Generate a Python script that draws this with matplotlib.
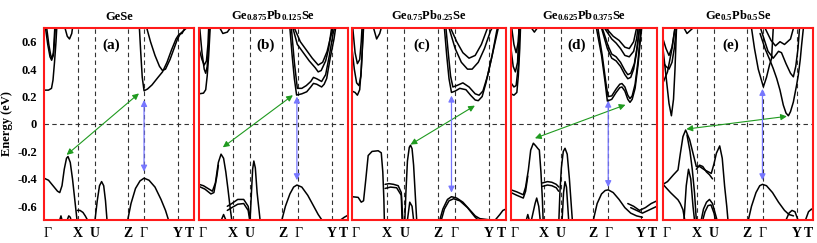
import matplotlib
matplotlib.use("Agg")
import matplotlib.pyplot as plt

plt.rcParams['font.family'] = ['Liberation Serif', 'DejaVu Serif']
plt.rcParams['font.weight'] = 'bold'
plt.rcParams['mathtext.fontset'] = 'custom'
plt.rcParams['mathtext.rm'] = 'Liberation Serif:bold'
plt.rcParams['mathtext.bf'] = 'Liberation Serif:bold'
plt.rcParams['mathtext.it'] = 'Liberation Serif:bold'

# high-symmetry path (fractional positions) and labels
kpath_pos = [0.0, 0.225, 0.34, 0.56, 0.667, 0.89, 1.0]
kpath_labels = ['Γ', 'X', 'U', 'Z', 'Γ', 'Y', 'T']
ytick_vals = [0.6, 0.4, 0.2, 0.0, -0.2, -0.4, -0.6]
ytick_labels = ['0.6', '0.4', '0.2', '0', '-0.2', '-0.4', '-0.6']

titles = ['GeSe',
          r'Ge$_{0.875}$Pb$_{0.125}$Se',
          r'Ge$_{0.75}$Pb$_{0.25}$Se',
          r'Ge$_{0.625}$Pb$_{0.375}$Se',
          r'Ge$_{0.5}$Pb$_{0.5}$Se']
panel_tags = ['(a)', '(b)', '(c)', '(d)', '(e)']

# band lines: list of (k, E) points per band
bands_a = [
    [(0, -0.395), (0.03, -0.41), (0.06, -0.45), (0.09, -0.49), (0.105, -0.50), (0.12, -0.45), (0.135, -0.33), (0.15, -0.25), (0.16, -0.237), (0.175, -0.28), (0.19, -0.40), (0.205, -0.55), (0.22, -0.70)],
    [(0.222, -0.63), (0.24, -0.63), (0.26, -0.645), (0.275, -0.67), (0.29, -0.70)],
    [(0.34, -0.70), (0.355, -0.56), (0.37, -0.45), (0.384, -0.42), (0.398, -0.45), (0.41, -0.56), (0.42, -0.70)],
    [(0.558, -0.70), (0.58, -0.58), (0.61, -0.47), (0.64, -0.415), (0.667, -0.395), (0.70, -0.41), (0.74, -0.46), (0.78, -0.55), (0.81, -0.63), (0.83, -0.70)],
    [(0.105, -0.70), (0.113, -0.67), (0.12, -0.70)],
    [(0.155, -0.70), (0.165, -0.67), (0.175, -0.68), (0.18, -0.70)],
    [(0, 0.247), (0.03, 0.247), (0.05, 0.26), (0.06, 0.32), (0.07, 0.45), (0.08, 0.6), (0.085, 0.7)],
    [(0.01, 0.7), (0.025, 0.58), (0.04, 0.49), (0.051, 0.465), (0.062, 0.5), (0.07, 0.6), (0.075, 0.7)],
    [(0.018, 0.7), (0.032, 0.58), (0.045, 0.5), (0.053, 0.48), (0.063, 0.52), (0.072, 0.7)],
    [(0.14, 0.7), (0.155, 0.64), (0.17, 0.62), (0.185, 0.66), (0.19, 0.7)],
    [(0.636, 0.7), (0.645, 0.52), (0.655, 0.34), (0.667, 0.242), (0.69, 0.255), (0.72, 0.285), (0.76, 0.34), (0.79, 0.38), (0.82, 0.45), (0.85, 0.54), (0.88, 0.62), (0.9, 0.655), (0.92, 0.66), (0.94, 0.7)],
    [(0.685, 0.7), (0.71, 0.6), (0.74, 0.5), (0.77, 0.42), (0.79, 0.39), (0.81, 0.40), (0.84, 0.47), (0.87, 0.56), (0.89, 0.62), (0.91, 0.66), (0.93, 0.68), (0.95, 0.7)],
]
bands_b = [
    [(0, -0.44), (0.03, -0.45), (0.06, -0.47), (0.09, -0.49), (0.11, -0.43), (0.13, -0.28), (0.148, -0.22), (0.165, -0.25), (0.18, -0.35), (0.195, -0.48), (0.21, -0.62), (0.22, -0.70)],
    [(0, -0.455), (0.04, -0.475), (0.08, -0.51), (0.10, -0.50), (0.12, -0.38), (0.13, -0.30)],
    [(0.19, -0.60), (0.22, -0.58), (0.26, -0.55), (0.30, -0.55), (0.33, -0.60), (0.345, -0.70)],
    [(0.19, -0.63), (0.22, -0.61), (0.26, -0.585), (0.30, -0.58), (0.33, -0.63), (0.34, -0.70)],
    [(0.343, -0.70), (0.352, -0.50), (0.36, -0.33), (0.368, -0.27), (0.378, -0.32), (0.39, -0.50), (0.41, -0.70)],
    [(0.556, -0.70), (0.58, -0.60), (0.61, -0.51), (0.635, -0.46), (0.657, -0.445), (0.69, -0.46), (0.73, -0.52), (0.77, -0.60), (0.80, -0.66), (0.825, -0.70)],
    [(0.95, -0.70), (0.975, -0.68), (1.0, -0.665)],
    [(0.15, -0.70), (0.165, -0.66), (0.18, -0.70)],
    [(0, 0.22), (0.03, 0.225), (0.045, 0.25), (0.055, 0.35), (0.065, 0.5), (0.075, 0.7)],
    [(0.005, 0.7), (0.02, 0.52), (0.035, 0.40), (0.045, 0.37), (0.055, 0.42), (0.065, 0.58), (0.07, 0.7)],
    [(0.0, 0.55), (0.02, 0.47), (0.035, 0.43), (0.05, 0.46), (0.06, 0.58), (0.065, 0.7)],
    [(0.14, 0.7), (0.16, 0.66), (0.19, 0.67), (0.21, 0.7)],
    [(0.61, 0.7), (0.625, 0.5), (0.64, 0.33), (0.655, 0.211), (0.69, 0.22), (0.723, 0.235), (0.75, 0.27), (0.768, 0.296), (0.79, 0.29), (0.823, 0.27), (0.84, 0.29), (0.857, 0.332), (0.88, 0.478), (0.906, 0.62), (0.917, 0.7)],
    [(0.62, 0.7), (0.64, 0.45), (0.66, 0.26), (0.69, 0.26), (0.72, 0.28), (0.75, 0.31), (0.768, 0.34), (0.79, 0.33), (0.823, 0.31), (0.85, 0.36), (0.875, 0.5), (0.9, 0.66), (0.91, 0.7)],
    [(0.63, 0.7), (0.66, 0.58), (0.70, 0.52), (0.74, 0.46), (0.78, 0.41), (0.80, 0.38), (0.82, 0.39), (0.85, 0.46), (0.87, 0.55), (0.89, 0.7)],
    [(0.64, 0.7), (0.68, 0.60), (0.72, 0.54), (0.76, 0.48), (0.80, 0.43), (0.83, 0.45), (0.86, 0.53), (0.88, 0.62), (0.9, 0.7)],
]
bands_c = [
    [(0, -0.53), (0.04, -0.535), (0.06, -0.57), (0.075, -0.56), (0.09, -0.40), (0.105, -0.23), (0.13, -0.20), (0.17, -0.195), (0.19, -0.21), (0.2, -0.35), (0.207, -0.55), (0.21, -0.70)],
    [(0.215, -0.44), (0.24, -0.435), (0.27, -0.44), (0.30, -0.45), (0.32, -0.5), (0.33, -0.70)],
    [(0.215, -0.47), (0.25, -0.46), (0.29, -0.465), (0.32, -0.52), (0.325, -0.70)],
    [(0.343, -0.70), (0.35, -0.50), (0.36, -0.27), (0.372, -0.17), (0.38, -0.155), (0.39, -0.18), (0.40, -0.30), (0.41, -0.50), (0.42, -0.70)],
    [(0.36, -0.70), (0.375, -0.57), (0.39, -0.60), (0.40, -0.70)],
    [(0.57, -0.70), (0.59, -0.62), (0.62, -0.55), (0.646, -0.53), (0.68, -0.54), (0.72, -0.57), (0.76, -0.62), (0.80, -0.67), (0.83, -0.69), (0.9, -0.70)],
    [(0.58, -0.70), (0.60, -0.62), (0.63, -0.56), (0.66, -0.545), (0.70, -0.56), (0.75, -0.61), (0.80, -0.68), (0.82, -0.70)],
    [(0.93, -0.70), (0.96, -0.66), (0.98, -0.63), (1.0, -0.62)],
    [(0, 0.24), (0.02, 0.23), (0.035, 0.21), (0.05, 0.25), (0.06, 0.4), (0.07, 0.6), (0.075, 0.7)],
    [(0.0, 0.55), (0.015, 0.40), (0.03, 0.30), (0.045, 0.28), (0.058, 0.35), (0.065, 0.5), (0.072, 0.7)],
    [(0.005, 0.7), (0.02, 0.52), (0.035, 0.44), (0.05, 0.47), (0.06, 0.6), (0.065, 0.7)],
    [(0.14, 0.7), (0.16, 0.62), (0.18, 0.66), (0.19, 0.7)],
    [(0.60, 0.7), (0.615, 0.5), (0.63, 0.33), (0.646, 0.23), (0.67, 0.24), (0.70, 0.26), (0.74, 0.25), (0.77, 0.21), (0.80, 0.175), (0.82, 0.17), (0.845, 0.2), (0.87, 0.3), (0.90, 0.45), (0.93, 0.6), (0.95, 0.7)],
    [(0.61, 0.7), (0.625, 0.52), (0.64, 0.35), (0.655, 0.27), (0.68, 0.28), (0.72, 0.30), (0.76, 0.27), (0.80, 0.22), (0.825, 0.21), (0.85, 0.24), (0.88, 0.35), (0.91, 0.5), (0.94, 0.68), (0.945, 0.7)],
    [(0.63, 0.7), (0.67, 0.55), (0.71, 0.45), (0.75, 0.40), (0.78, 0.40), (0.82, 0.45), (0.86, 0.55), (0.9, 0.68), (0.91, 0.7)],
    [(0.64, 0.7), (0.68, 0.6), (0.72, 0.52), (0.76, 0.48), (0.8, 0.5), (0.84, 0.58), (0.88, 0.7)],
]
bands_d = [
    [(0, -0.48), (0.04, -0.495), (0.084, -0.516), (0.10, -0.46), (0.119, -0.335), (0.135, -0.19), (0.153, -0.14), (0.17, -0.16), (0.185, -0.18), (0.194, -0.19), (0.205, -0.35), (0.215, -0.55), (0.22, -0.70)],
    [(0, -0.50), (0.04, -0.52), (0.084, -0.54), (0.10, -0.49), (0.115, -0.38)],
    [(0.215, -0.43), (0.25, -0.42), (0.28, -0.425), (0.31, -0.44), (0.328, -0.46)],
    [(0.215, -0.455), (0.25, -0.445), (0.28, -0.45), (0.31, -0.465), (0.326, -0.49)],
    [(0.328, -0.70), (0.335, -0.50), (0.345, -0.32), (0.358, -0.2), (0.37, -0.177), (0.385, -0.22), (0.40, -0.40), (0.41, -0.55), (0.42, -0.70)],
    [(0.35, -0.70), (0.36, -0.50), (0.37, -0.42), (0.38, -0.46), (0.395, -0.70)],
    [(0.14, -0.70), (0.165, -0.58), (0.176, -0.54), (0.19, -0.60), (0.2, -0.70)],
    [(0.105, -0.70), (0.115, -0.66), (0.125, -0.70)],
    [(0.564, -0.70), (0.59, -0.58), (0.62, -0.51), (0.645, -0.485), (0.666, -0.48), (0.70, -0.50), (0.74, -0.55), (0.78, -0.61), (0.82, -0.65), (0.86, -0.67), (0.9, -0.68)],
    [(0.80, -0.58), (0.84, -0.60), (0.88, -0.63), (0.92, -0.61), (0.96, -0.58), (1.0, -0.56)],
    [(0.82, -0.61), (0.86, -0.63), (0.9, -0.65), (0.94, -0.63), (1.0, -0.60)],
    [(0, 0.22), (0.02, 0.21), (0.04, 0.23), (0.05, 0.35), (0.06, 0.55), (0.065, 0.7)],
    [(0, 0.30), (0.02, 0.27), (0.035, 0.28), (0.05, 0.42), (0.06, 0.7)],
    [(0.0, 0.55), (0.015, 0.42), (0.03, 0.38), (0.045, 0.45), (0.055, 0.7)],
    [(0.005, 0.7), (0.02, 0.58), (0.035, 0.52), (0.05, 0.6), (0.055, 0.7)],
    [(0.14, 0.7), (0.16, 0.67), (0.18, 0.7)],
    [(0.585, 0.7), (0.62, 0.5), (0.645, 0.3), (0.66, 0.167), (0.69, 0.18), (0.72, 0.23), (0.745, 0.265), (0.76, 0.27), (0.78, 0.24), (0.80, 0.18), (0.815, 0.158), (0.83, 0.18), (0.85, 0.26), (0.87, 0.43), (0.885, 0.6), (0.895, 0.7)],
    [(0.595, 0.7), (0.625, 0.5), (0.65, 0.3), (0.665, 0.2), (0.69, 0.205), (0.72, 0.255), (0.745, 0.29), (0.76, 0.295), (0.78, 0.27), (0.80, 0.21), (0.815, 0.185), (0.83, 0.205), (0.85, 0.29), (0.87, 0.46), (0.89, 0.7)],
    [(0.62, 0.7), (0.66, 0.55), (0.69, 0.48), (0.72, 0.46), (0.75, 0.42), (0.78, 0.36), (0.80, 0.33), (0.82, 0.34), (0.84, 0.40), (0.86, 0.52), (0.88, 0.7)],
    [(0.625, 0.7), (0.665, 0.57), (0.69, 0.51), (0.72, 0.49), (0.75, 0.45), (0.78, 0.39), (0.80, 0.36), (0.82, 0.37), (0.845, 0.44), (0.865, 0.57), (0.88, 0.7)],
    [(0.64, 0.7), (0.69, 0.62), (0.72, 0.59), (0.75, 0.55), (0.78, 0.50), (0.81, 0.49), (0.84, 0.53), (0.86, 0.62), (0.87, 0.7)],
    [(0.65, 0.7), (0.70, 0.64), (0.74, 0.61), (0.78, 0.56), (0.81, 0.55), (0.84, 0.6), (0.86, 0.7)],
]
bands_e = [
    [(0.0, -0.44), (0.03, -0.42), (0.07, -0.37), (0.1, -0.335), (0.115, -0.22), (0.133, -0.092), (0.151, -0.044), (0.178, -0.116), (0.2, -0.213), (0.222, -0.31), (0.244, -0.31), (0.278, -0.335), (0.322, -0.36), (0.34, -0.29), (0.356, -0.213), (0.378, -0.16), (0.395, -0.25), (0.411, -0.456), (0.425, -0.60), (0.433, -0.70)],
    [(0.222, -0.33), (0.244, -0.30), (0.265, -0.31), (0.29, -0.35), (0.31, -0.37), (0.33, -0.40)],
    [(0.0, -0.44), (0.05, -0.50), (0.1, -0.553), (0.115, -0.58), (0.133, -0.625), (0.145, -0.70)],
    [(0.16, -0.08), (0.18, -0.2), (0.195, -0.33), (0.21, -0.5), (0.222, -0.70)],
    [(0.14, -0.70), (0.155, -0.45), (0.17, -0.33), (0.185, -0.40), (0.2, -0.60), (0.21, -0.70)],
    [(0.255, -0.70), (0.27, -0.62), (0.29, -0.57), (0.31, -0.55), (0.33, -0.58), (0.35, -0.66), (0.36, -0.70)],
    [(0.265, -0.70), (0.28, -0.64), (0.30, -0.595), (0.32, -0.59), (0.34, -0.65), (0.35, -0.70)],
    [(0.569, -0.70), (0.59, -0.60), (0.62, -0.50), (0.645, -0.45), (0.663, -0.44), (0.69, -0.45), (0.73, -0.50), (0.77, -0.57), (0.81, -0.63), (0.84, -0.66), (0.87, -0.67)],
    [(0.82, -0.70), (0.84, -0.65), (0.86, -0.63), (0.88, -0.64), (0.9, -0.70)],
    [(0.95, -0.70), (0.97, -0.64), (0.99, -0.62), (1.0, -0.63)],
    [(0.0, 0.55), (0.02, 0.35), (0.04, 0.15), (0.056, 0.06), (0.07, 0.18), (0.08, 0.40), (0.09, 0.7)],
    [(0, 0.45), (0.02, 0.42), (0.04, 0.40), (0.06, 0.45), (0.075, 0.55), (0.09, 0.7)],
    [(0, 0.62), (0.02, 0.55), (0.04, 0.50), (0.06, 0.56), (0.08, 0.7)],
    [(0, 0.3), (0.03, 0.38), (0.06, 0.55), (0.08, 0.7)],
    [(0.14, 0.7), (0.16, 0.66), (0.2, 0.7)],
    [(0.59, 0.7), (0.61, 0.55), (0.635, 0.40), (0.669, 0.271), (0.69, 0.34), (0.71, 0.43), (0.724, 0.478), (0.735, 0.7)],
    [(0.647, 0.66), (0.68, 0.55), (0.713, 0.465), (0.735, 0.404), (0.758, 0.332), (0.78, 0.247), (0.802, 0.138), (0.82, 0.08), (0.836, 0.06), (0.85, 0.09), (0.869, 0.16), (0.89, 0.28), (0.902, 0.356), (0.915, 0.47), (0.924, 0.575), (0.936, 0.7)],
    [(0.65, 0.7), (0.70, 0.53), (0.735, 0.48), (0.77, 0.53), (0.79, 0.52), (0.82, 0.44), (0.85, 0.37), (0.869, 0.344), (0.885, 0.42), (0.9, 0.55), (0.91, 0.7)],
    [(0.68, 0.7), (0.72, 0.61), (0.75, 0.57), (0.78, 0.6), (0.81, 0.58), (0.85, 0.62), (0.87, 0.7)],
]
all_bands = [bands_a, bands_b, bands_c, bands_d, bands_e]

# gap arrows: green (indirect) from CB point to VB point; blue (direct) at Gamma
green_arrows = [((0.633, 0.223), (0.151, -0.225)),
                ((0.63, 0.21), (0.16, -0.17)),
                ((0.798, 0.134), (0.38, -0.15)),
                ((0.784, 0.14), (0.164, -0.104)),
                ((0.826, 0.056), (0.156, -0.037))]
blue_arrows = [((0.667, 0.175), (0.667, -0.347)),
               ((0.657, 0.2), (0.657, -0.41)),
               ((0.646, 0.207), (0.646, -0.5)),
               ((0.666, 0.17), (0.666, -0.46)),
               ((0.663, 0.256), (0.663, -0.41))]

# axes placement in pixels (left, width)
panel_px = [(44, 150), (199, 149), (352, 154), (511, 146), (663, 150)]
W, H = 817, 243
fig = plt.figure(figsize=(W / 100, H / 100), dpi=100)

for i in range(5):
    l, w = panel_px[i]
    ax = fig.add_axes([l / W, 23 / H, w / W, 192 / H])
    ax.set_xlim(0, 1)
    ax.set_ylim(-0.7, 0.7)
    for xv in kpath_pos[1:-1]:
        ax.axvline(xv, color='#333333', lw=0.8, ls=(0, (4, 3)), zorder=1)
    ax.axhline(0, color='#333333', lw=0.8, ls=(0, (4, 3)), zorder=1)
    for band in all_bands[i]:
        ks = [p[0] for p in band]
        es = [p[1] for p in band]
        ax.plot(ks, es, color='black', lw=1.1, zorder=2, solid_capstyle='round')
    (g0, g1) = green_arrows[i]
    ax.annotate('', xy=g1, xytext=g0,
                arrowprops=dict(arrowstyle='<|-|>', color='#1f9a1f', lw=0.8,
                                mutation_scale=9, shrinkA=0, shrinkB=0), zorder=3)
    (b0, b1) = blue_arrows[i]
    ax.annotate('', xy=b1, xytext=b0,
                arrowprops=dict(arrowstyle='<|-|>', color='#7777ff', lw=0.9,
                                mutation_scale=9, shrinkA=0, shrinkB=0), zorder=3)
    for s in ax.spines.values():
        s.set_color('#ff1a1a')
        s.set_linewidth(1.5)
    ax.set_xticks(kpath_pos)
    ax.set_xticklabels(kpath_labels, fontsize=10, fontweight='bold')
    xl = ax.get_xticklabels()
    for t in xl:
        if t.get_text() == 'Γ':
            t.set_fontweight('normal')
    xl[0].set_horizontalalignment('left')
    xl[-1].set_horizontalalignment('right')
    ax.tick_params(length=0, pad=5)
    if i == 0:
        ax.set_yticks(ytick_vals)
        ax.set_yticklabels(ytick_labels, fontsize=9, fontweight='bold')
        ax.set_ylabel('Energy (eV)', fontsize=9, fontweight='bold', labelpad=3)
    else:
        ax.set_yticks([])
    ax.set_title(titles[i], fontsize=9, fontweight='bold', pad=6)
    ax.text(0.45, 0.91, panel_tags[i], transform=ax.transAxes, ha='center', va='center',
            fontsize=11, fontweight='bold')

fig.savefig('out.png', dpi=100)
